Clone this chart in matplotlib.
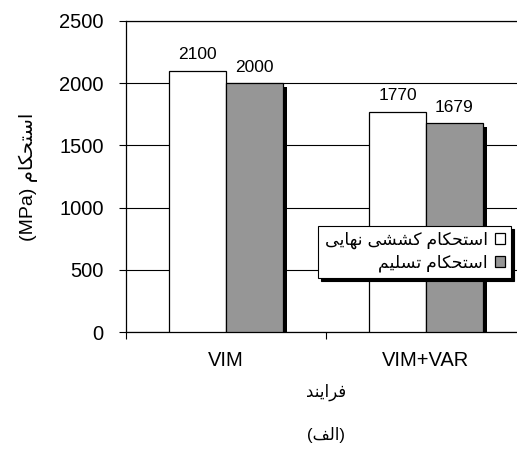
import matplotlib
matplotlib.use("Agg")
import matplotlib.pyplot as plt
import matplotlib.transforms as mtransforms
import numpy as np

# ---------------- data ----------------
processes = ["VIM", "VIM+VAR"]
ultimate_strength = [2100, 1770]
yield_strength = [2000, 1679]
y_ticks = [0, 500, 1000, 1500, 2000, 2500]
legend_labels = ["استحکام کششی نهایی", "استحکام تسلیم"]
y_label_word = "استحکام"
y_label_unit = "(MPa)"
x_label_text = "فرایند"
caption_text = "الف"

# ---------------- minimal Arabic/Persian shaping ----------------
FORMS = {
    'ا': ('\uFE8D', '\uFE8E', None, None),
    'ت': ('\uFE95', '\uFE96', '\uFE97', '\uFE98'),
    'ح': ('\uFEA1', '\uFEA2', '\uFEA3', '\uFEA4'),
    'د': ('\uFEA9', '\uFEAA', None, None),
    'ر': ('\uFEAD', '\uFEAE', None, None),
    'س': ('\uFEB1', '\uFEB2', '\uFEB3', '\uFEB4'),
    'ش': ('\uFEB5', '\uFEB6', '\uFEB7', '\uFEB8'),
    'ف': ('\uFED1', '\uFED2', '\uFED3', '\uFED4'),
    'ل': ('\uFEDD', '\uFEDE', '\uFEDF', '\uFEE0'),
    'م': ('\uFEE1', '\uFEE2', '\uFEE3', '\uFEE4'),
    'ن': ('\uFEE5', '\uFEE6', '\uFEE7', '\uFEE8'),
    'ه': ('\uFEE9', '\uFEEA', '\uFEEB', '\uFEEC'),
    'ک': ('\uFB8E', '\uFB8F', '\uFB90', '\uFB91'),
    'ی': ('\uFBFC', '\uFBFD', '\uFBFE', '\uFBFF'),
}
RIGHT_ONLY = set('ادر')


def shape(s):
    out = []
    for i, c in enumerate(s):
        if c not in FORMS:
            out.append(c)
            continue
        prev = s[i - 1] if i > 0 else None
        nxt = s[i + 1] if i + 1 < len(s) else None
        jp = prev in FORMS and prev not in RIGHT_ONLY
        jn = nxt in FORMS and c not in RIGHT_ONLY
        iso, fin, ini, med = FORMS[c]
        if jp and jn:
            f = med
        elif jp:
            f = fin
        elif jn:
            f = ini
        else:
            f = iso
        out.append(f)
    return ''.join(reversed(out))


FAM = ['Liberation Sans', 'DejaVu Sans']
plt.rcParams['font.family'] = FAM

W, H, DPI = 517, 450, 100
fig = plt.figure(figsize=(W / DPI, H / DPI), dpi=DPI)
ax = fig.add_axes([126 / W, 1 - 332 / H, 400 / W, 311 / H])

x = np.arange(len(processes))
bw = 0.285

# grid lines behind bars
ax.set_axisbelow(True)
ax.yaxis.grid(True, color='black', linewidth=0.8)

# shadow for gray series
shadow_tr = mtransforms.offset_copy(ax.transData, fig=fig, x=4, y=-4, units='dots')
ax.bar(x + bw / 2, yield_strength, bw, color='black', edgecolor='none',
       transform=shadow_tr, zorder=2)

b1 = ax.bar(x - bw / 2, ultimate_strength, bw, color='white', edgecolor='black',
            linewidth=0.9, zorder=3, label=shape(legend_labels[0]))
b2 = ax.bar(x + bw / 2, yield_strength, bw, color='#969696', edgecolor='black',
            linewidth=0.9, zorder=3, label=shape(legend_labels[1]))

ax.bar_label(b1, padding=6, fontsize=12.5)
ax.bar_label(b2, padding=6, fontsize=12.5)

ax.set_xlim(-0.5, len(processes) - 0.5)
ax.set_ylim(y_ticks[0], y_ticks[-1])
ax.set_yticks(y_ticks)
ax.tick_params(axis='y', direction='out', length=5, width=0.8, pad=11, labelsize=14.5)

# category boundaries as major ticks, names on minor ticks
ax.set_xticks(np.arange(len(processes) + 1) - 0.5)
ax.set_xticklabels([])
ax.set_xticks(x, minor=True)
ax.set_xticklabels(processes, minor=True)
ax.tick_params(axis='x', which='major', direction='out', length=5, width=0.8)
ax.tick_params(axis='x', which='minor', length=0, pad=14, labelsize=14.5)

for side in ['top', 'left', 'bottom']:
    ax.spines[side].set_color('black')
    ax.spines[side].set_linewidth(0.9)
ax.spines['right'].set_visible(False)

ax.set_ylabel(y_label_unit + ' ' + shape(y_label_word), fontsize=14, labelpad=15)

# x label and caption centred on the axes
cx = (126 + 200) / W
fig.text(cx, 1 - 392 / H, shape(x_label_text), ha='center', va='center', fontsize=12)
fig.text(cx, 1 - 435 / H, '(' + shape(caption_text) + ')', ha='center', va='center', fontsize=12)

leg = ax.legend(loc='upper right', bbox_to_anchor=(511 / W, 1 - 226 / H),
                bbox_transform=fig.transFigure, markerfirst=False, fontsize=12.5,
                handlelength=0.6, handleheight=0.6, handletextpad=0.4,
                borderpad=0.35, labelspacing=0.3, borderaxespad=0,
                fancybox=False, edgecolor='black', framealpha=1,
                shadow={'color': 'black', 'alpha': 1})
leg.get_frame().set_linewidth(0.8)
leg.set_zorder(5)

fig.savefig('out.png', dpi=DPI)
